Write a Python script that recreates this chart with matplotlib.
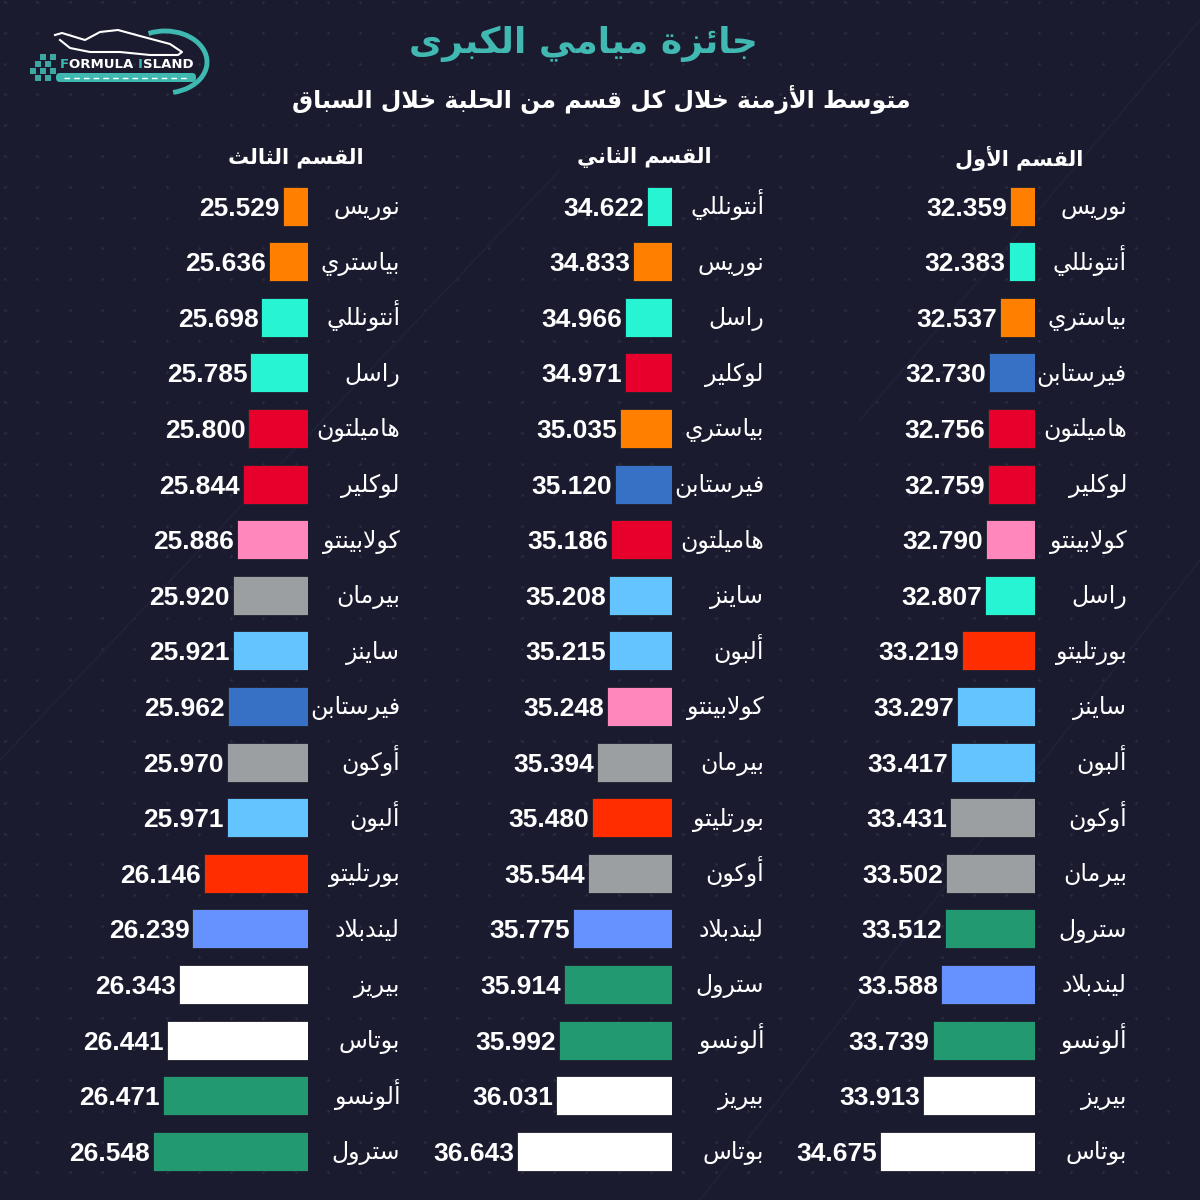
import matplotlib
matplotlib.use("Agg")
import matplotlib.pyplot as plt
from matplotlib.patches import Rectangle, Arc, FancyBboxPatch
from matplotlib.offsetbox import TextArea, HPacker, AnnotationBbox
import numpy as np

# ---------------- data ----------------
title = "جائزة ميامي الكبرى"
subtitle = "متوسط الأزمنة خلال كل قسم من الحلبة خلال السباق"
sector_titles = ["القسم الأول", "القسم الثاني", "القسم الثالث"]

s1_drivers = ["نوريس", "أنتونللي", "بياستري", "فيرستابن", "هاميلتون", "لوكلير",
              "كولابينتو", "راسل", "بورتليتو", "ساينز", "ألبون", "أوكون",
              "بيرمان", "سترول", "ليندبلاد", "ألونسو", "بيريز", "بوتاس"]
s1_times = [32.359, 32.383, 32.537, 32.730, 32.756, 32.759, 32.790, 32.807, 33.219,
            33.297, 33.417, 33.431, 33.502, 33.512, 33.588, 33.739, 33.913, 34.675]

s2_drivers = ["أنتونللي", "نوريس", "راسل", "لوكلير", "بياستري", "فيرستابن",
              "هاميلتون", "ساينز", "ألبون", "كولابينتو", "بيرمان", "بورتليتو",
              "أوكون", "ليندبلاد", "سترول", "ألونسو", "بيريز", "بوتاس"]
s2_times = [34.622, 34.833, 34.966, 34.971, 35.035, 35.120, 35.186, 35.208, 35.215,
            35.248, 35.394, 35.480, 35.544, 35.775, 35.914, 35.992, 36.031, 36.643]

s3_drivers = ["نوريس", "بياستري", "أنتونللي", "راسل", "هاميلتون", "لوكلير",
              "كولابينتو", "بيرمان", "ساينز", "فيرستابن", "أوكون", "ألبون",
              "بورتليتو", "ليندبلاد", "بيريز", "بوتاس", "ألونسو", "سترول"]
s3_times = [25.529, 25.636, 25.698, 25.785, 25.800, 25.844, 25.886, 25.920, 25.921,
            25.962, 25.970, 25.971, 26.146, 26.239, 26.343, 26.441, 26.471, 26.548]

driver_colors = {
    "نوريس": "#FF8000", "بياستري": "#FF8000",
    "أنتونللي": "#27F4D2", "راسل": "#27F4D2",
    "فيرستابن": "#3671C6",
    "هاميلتون": "#E8002D", "لوكلير": "#E8002D",
    "كولابينتو": "#FF87BC",
    "بورتليتو": "#FF2D00",
    "ساينز": "#64C4FF", "ألبون": "#64C4FF",
    "أوكون": "#9C9FA2", "بيرمان": "#9C9FA2",
    "سترول": "#229971", "ألونسو": "#229971",
    "ليندبلاد": "#6692FF",
    "بيريز": "#FFFFFF", "بوتاس": "#FFFFFF",
}

# ---------------- arabic shaping (presentation forms + RTL order) ----------------
_FORMS = {
    '\u0621': ('\uFE80',),
    '\u0622': ('\uFE81', '\uFE82'), '\u0623': ('\uFE83', '\uFE84'),
    '\u0624': ('\uFE85', '\uFE86'), '\u0625': ('\uFE87', '\uFE88'),
    '\u0626': ('\uFE89', '\uFE8A', '\uFE8B', '\uFE8C'),
    '\u0627': ('\uFE8D', '\uFE8E'),
    '\u0628': ('\uFE8F', '\uFE90', '\uFE91', '\uFE92'),
    '\u0629': ('\uFE93', '\uFE94'),
    '\u062A': ('\uFE95', '\uFE96', '\uFE97', '\uFE98'),
    '\u062B': ('\uFE99', '\uFE9A', '\uFE9B', '\uFE9C'),
    '\u062C': ('\uFE9D', '\uFE9E', '\uFE9F', '\uFEA0'),
    '\u062D': ('\uFEA1', '\uFEA2', '\uFEA3', '\uFEA4'),
    '\u062E': ('\uFEA5', '\uFEA6', '\uFEA7', '\uFEA8'),
    '\u062F': ('\uFEA9', '\uFEAA'), '\u0630': ('\uFEAB', '\uFEAC'),
    '\u0631': ('\uFEAD', '\uFEAE'), '\u0632': ('\uFEAF', '\uFEB0'),
    '\u0633': ('\uFEB1', '\uFEB2', '\uFEB3', '\uFEB4'),
    '\u0634': ('\uFEB5', '\uFEB6', '\uFEB7', '\uFEB8'),
    '\u0635': ('\uFEB9', '\uFEBA', '\uFEBB', '\uFEBC'),
    '\u0636': ('\uFEBD', '\uFEBE', '\uFEBF', '\uFEC0'),
    '\u0637': ('\uFEC1', '\uFEC2', '\uFEC3', '\uFEC4'),
    '\u0638': ('\uFEC5', '\uFEC6', '\uFEC7', '\uFEC8'),
    '\u0639': ('\uFEC9', '\uFECA', '\uFECB', '\uFECC'),
    '\u063A': ('\uFECD', '\uFECE', '\uFECF', '\uFED0'),
    '\u0641': ('\uFED1', '\uFED2', '\uFED3', '\uFED4'),
    '\u0642': ('\uFED5', '\uFED6', '\uFED7', '\uFED8'),
    '\u0643': ('\uFED9', '\uFEDA', '\uFEDB', '\uFEDC'),
    '\u0644': ('\uFEDD', '\uFEDE', '\uFEDF', '\uFEE0'),
    '\u0645': ('\uFEE1', '\uFEE2', '\uFEE3', '\uFEE4'),
    '\u0646': ('\uFEE5', '\uFEE6', '\uFEE7', '\uFEE8'),
    '\u0647': ('\uFEE9', '\uFEEA', '\uFEEB', '\uFEEC'),
    '\u0648': ('\uFEED', '\uFEEE'), '\u0649': ('\uFEEF', '\uFEF0'),
    '\u064A': ('\uFEF1', '\uFEF2', '\uFEF3', '\uFEF4'),
}
_LAM_ALEF = {'\u0622': ('\uFEF5', '\uFEF6'), '\u0623': ('\uFEF7', '\uFEF8'),
             '\u0625': ('\uFEF9', '\uFEFA'), '\u0627': ('\uFEFB', '\uFEFC')}


def ar(text):
    words = []
    for word in text.split(' '):
        toks, i = [], 0
        while i < len(word):
            c = word[i]
            if c == '\u0644' and i + 1 < len(word) and word[i + 1] in _LAM_ALEF:
                toks.append(_LAM_ALEF[word[i + 1]])
                i += 2
            else:
                toks.append(_FORMS.get(c, (c,)))
                i += 1
        res = []
        for k, f in enumerate(toks):
            if len(f) == 1:
                res.append(f[0])
                continue
            pj = k > 0 and len(toks[k - 1]) == 4
            nj = len(f) == 4 and k + 1 < len(toks) and len(toks[k + 1]) >= 2
            if pj and nj:
                res.append(f[3])
            elif pj:
                res.append(f[1])
            elif nj:
                res.append(f[2])
            else:
                res.append(f[0])
        words.append(''.join(res))
    return ' '.join(words)[::-1]


# ---------------- figure ----------------
BG = "#1a1b2e"
W, H = 1200, 1200
fig = plt.figure(figsize=(12, 12), dpi=100, facecolor=BG)

# background layer in pixel coordinates
bg = fig.add_axes([0, 0, 1, 1])
bg.set_xlim(0, W)
bg.set_ylim(H, 0)
bg.axis('off')
bg.set_facecolor(BG)
gx, gy = np.meshgrid(np.arange(5, W, 32.3), np.arange(2, H, 30.8))
bg.scatter(gx.ravel(), gy.ravel(), s=4, color="#2a2c42", marker='o', lw=0, zorder=0)
for (x0, y0, x1, y1) in [(1200, 20, 860, 420), (560, 170, 0, 760), (1200, 560, 700, 1200)]:
    bg.plot([x0, x1], [y0, y1], color="#20223a", lw=1.2, zorder=0)

# ---- logo ----
TEAL = "#3fb8b1"
for (sx, sy) in [(40, 54), (50, 54), (35, 61), (45, 61), (30, 68), (40, 68), (50, 68), (35, 75), (45, 75)]:
    bg.add_patch(Rectangle((sx, sy), 6, 6, color=TEAL, lw=0, alpha=0.9))
bg.add_patch(FancyBboxPatch((56, 73), 140, 9, boxstyle="round,pad=0,rounding_size=4",
                            color=TEAL, lw=0))
bg.plot([64, 188], [77.5, 77.5], color="white", lw=1, ls=(0, (4, 3)))
bg.add_patch(Arc((165, 62), 84, 62, theta1=-120, theta2=75, color=TEAL, lw=3.5))
logo_parts = [("F", TEAL), ("ORMULA ", "white"), ("I", TEAL), ("SLAND", "white")]
packer = HPacker(children=[TextArea(s, textprops=dict(color=c, fontsize=9.5, fontweight='bold',
                                                        family="DejaVu Sans"))
                           for s, c in logo_parts], sep=0, pad=0, align="baseline")
bg.add_artist(AnnotationBbox(packer, (60, 64), xycoords='data', box_alignment=(0, 0.5),
                             frameon=False, pad=0))
car_x = [55, 62, 85, 100, 118, 140, 170, 182, 178, 150, 120, 90, 70, 60]
car_y = [35, 33, 40, 32, 30, 36, 44, 52, 55, 55, 52, 52, 48, 40]
bg.plot(car_x, car_y, color="white", lw=1.5)

# ---- titles ----
bg.text(583, 44, ar(title), color="#41b8b2", fontsize=26, fontweight='bold',
        family="DejaVu Sans", ha='center', va='center')
bg.text(601, 100, ar(subtitle), color="white", fontsize=17, fontweight='bold',
        family="DejaVu Sans", ha='center', va='center')

# ---- panels ----
panels = [(s1_drivers, s1_times, 1035, 1019),
          (s2_drivers, s2_times, 672, 644),
          (s3_drivers, s3_times, 308, 296)]
top_px, row_px = 206.0, 55.6
n = 18
AX_W = 160
for k, (drivers, times, xr, hx) in enumerate(panels):
    bg.text(hx, 158, ar(sector_titles[k]), color="white", fontsize=15, fontweight='bold',
            family="DejaVu Sans", ha='center', va='center')
    t = np.array(times)
    base = t.min() - (t.max() - t.min()) * 25 / 130
    spp = (t.max() - base) / 155
    y_top = top_px - row_px / 2
    y_bot = top_px + (n - 0.5) * row_px
    ax = fig.add_axes([(xr - AX_W) / W, 1 - y_bot / H, AX_W / W, (y_bot - y_top) / H])
    ax.set_xlim(base + AX_W * spp, base)
    ax.set_ylim(n - 0.5, -0.5)
    ax.axis('off')
    ax.patch.set_alpha(0)
    ys = np.arange(n)
    ax.barh(ys, t - base, left=base, height=39 / row_px,
            color=[driver_colors[d] for d in drivers], edgecolor="#20222f", lw=0.6)
    for i, (d, v) in enumerate(zip(drivers, times)):
        ax.annotate(f"{v:.3f}", xy=(v, i), xytext=(-3, -9.5), textcoords='offset pixels',
                    ha='right', va='baseline', fontsize=19, fontweight='bold',
                    color='white', family='Liberation Sans', annotation_clip=False)
        ax.annotate(ar(d), xy=(base, i), xytext=(92, -8), textcoords='offset pixels',
                    ha='right', va='baseline', fontsize=17, color='white',
                    family='DejaVu Sans', annotation_clip=False)

fig.savefig("out.png", dpi=100, facecolor=BG)
